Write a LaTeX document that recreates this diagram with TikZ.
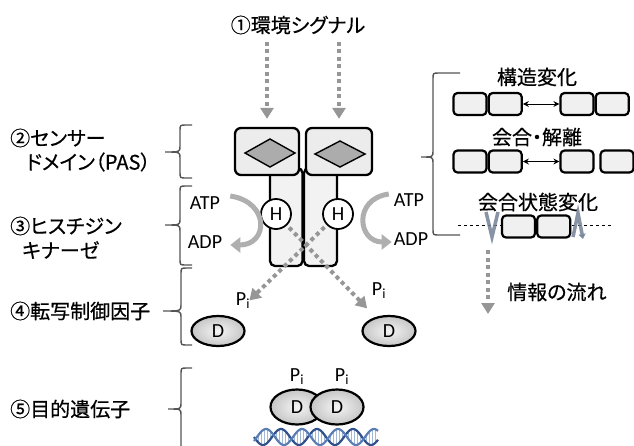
\documentclass[tikz,border=0pt]{standalone}
\usepackage{fontspec}
\setmainfont{Carlito}
\newfontfamily\jp[RawFeature={+palt},FakeBold=0.5]{Noto Sans CJK JP}
\usetikzlibrary{shapes,arrows.meta,positioning,calc}

\definecolor{flowgray}{RGB}{150,150,150}
\definecolor{atpgray}{RGB}{175,175,175}
\definecolor{bracegray}{RGB}{85,85,85}
\definecolor{membgray}{RGB}{115,128,150}
\definecolor{dnablue}{RGB}{50,80,140}
\definecolor{dnablue2}{RGB}{90,125,180}
\definecolor{dnarung}{RGB}{160,185,215}

% curly brace opening to the right: xend, xline, xtip, ytop, ytip, ybot
\newcommand{\sidebrace}[6]{%
  \draw[bracestyle] (#1,#4) -- (#2+6,#4) .. controls (#2,#4) .. (#2,#4+6)
    -- (#2,#5-6) .. controls (#2,#5) .. (#3,#5)
    .. controls (#2,#5) .. (#2,#5+6) -- (#2,#6-6)
    .. controls (#2,#6) .. (#2+6,#6) -- (#1,#6);}

\tikzset{
  jplabel/.style={font=\jp\fontsize{20}{24}\selectfont,inner sep=2pt},
  biolabel/.style={font=\fontsize{20}{24}\selectfont,inner sep=2pt},
  bracestyle/.style={draw=bracegray,line width=1.4pt},
  pasbox/.style={draw=black,line width=2.3pt,rounded corners=6pt,fill=gray!15,
    minimum height=47pt,inner sep=0pt},
  stalkbox/.style={draw=black,line width=2.3pt,rounded corners=5pt,fill=gray!10},
  gem/.style={draw=black,line width=1.4pt,fill=gray!65},
  hcircle/.style={circle,draw=black,line width=1.8pt,fill=white,minimum size=30pt,
    inner sep=0pt,font=\fontsize{20}{22}\selectfont},
  dnode/.style={ellipse,draw=black,line width=2.2pt,inner color=gray!8,outer color=gray!45,
    minimum width=53pt,minimum height=30pt,inner sep=0pt,font=\fontsize{20}{22}\selectfont},
  smallbox/.style={draw=black,line width=2.2pt,rounded corners=4pt,fill=gray!12,
    minimum width=33pt,minimum height=22pt,inner sep=0pt},
  sigflow/.style={draw=flowgray,line width=4pt,dash pattern=on 4pt off 3.5pt,
    -{Triangle[width=13pt,length=11pt]}},
  atpflow/.style={draw=atpgray,line width=5pt,-{Triangle[width=15pt,length=10pt]}},
  membmark/.style={draw=membgray,line width=3.5pt,opacity=.85},
}

\begin{document}
\begin{tikzpicture}[x=1pt,y=-1pt]
\useasboundingbox (0,0) rectangle (634,445);

% left column
\node[jplabel,anchor=west] (lab2a) at (8,138) {②センサー};
\node[jplabel,anchor=west] (lab2b) at (24,162) {ドメイン（PAS）};
\node[jplabel,anchor=west] (lab3a) at (8,226) {③ヒスチジン};
\node[jplabel,anchor=west] (lab3b) at (20,250) {キナーゼ};
\node[jplabel,anchor=west] (lab4) at (8,311) {④転写制御因子};
\node[jplabel,anchor=west] (lab5) at (8,409) {⑤目的遺伝子};

\sidebrace{192}{180}{165}{125}{152}{178}
\sidebrace{192}{180}{165}{186}{225}{265}
\sidebrace{192}{181}{163}{268}{311}{345}
\sidebrace{192}{181}{168}{368}{409}{470}

% signal
\node[jplabel] (signal) at (298,25) {①環境シグナル};

% sensor kinase dimer
\draw[stalkbox] (270,168) rectangle (302.5,266);
\draw[stalkbox] (304,168) rectangle (337,266);
\node[pasbox,minimum width=64pt] (pasL) at (267,151.5) {};
\node[pasbox,minimum width=66pt] (pasR) at (339,151.5) {};
\draw[gem] (245,153) -- (270,139) -- (295,153) -- (270,167) -- cycle;
\draw[gem] (315,154) -- (340,141) -- (365,154) -- (340,167) -- cycle;
\node[hcircle] (hL) at (276,214) {H};
\node[hcircle] (hR) at (338,214) {H};

\draw[sigflow,shorten <=5pt,shorten >=8pt] (signal.south -| pasL.north) -- (pasL.north);
\draw[sigflow,shorten <=5pt,shorten >=8pt] (signal.south -| pasR.north) -- (pasR.north);

% ATP -> ADP
\node[biolabel] (atpL) at (205,203) {ATP};
\node[biolabel] (adpL) at (205,242) {ADP};
\node[biolabel] (atpR) at (409,200) {ATP};
\node[biolabel] (adpR) at (411,239) {ADP};
\draw[atpflow] ($(atpL.east)+(8,-7)$) .. controls +(40,6) and +(38,0) .. ($(adpL.east)+(6,3)$);
\draw[atpflow] ($(atpR.west)+(-3,-6)$) .. controls +(-36,5) and +(-34,0) .. ($(adpR.west)+(0,3)$);

% response regulators
\node[dnode] (dL) at (218,331) {D};
\node[dnode] (dR) at (389,331) {D};
\node[biolabel] (piL) at (243,301) {P\textsubscript{i}};
\node[biolabel] (piR) at (379,291) {P\textsubscript{i}};
\draw[sigflow,shorten <=3pt,shorten >=12pt] (hL) -- (dR);
\draw[sigflow,shorten <=3pt,shorten >=24pt] (hR) -- (dL);

% bound to the target gene
\begin{scope}
\clip (240,418) rectangle (400,445);
\foreach \x in {255,258,...,377}
  \draw[dnarung,line width=1pt] (\x,{437+8*sin((\x-254)*10)}) -- (\x,{437+8*sin((\x-254)*10+150)});
\draw[dnablue,line width=2.2pt] plot[domain=254:378,samples=100] (\x,{437+8*sin((\x-254)*10)});
\draw[dnablue2,line width=2.2pt] plot[domain=254:378,samples=100] (\x,{437+8*sin((\x-254)*10+150)});
\end{scope}
\node[dnode,minimum height=35pt] (dpL) at (297,407) {D};
\node[dnode,minimum height=35pt] (dpR) at (337,407) {D};
\node[biolabel] (pbL) at (297,377) {P\textsubscript{i}};
\node[biolabel] (pbR) at (342,377) {P\textsubscript{i}};
\draw[line width=1pt] ($(pbL.east)+(-3,6)$) -- ($(pbL.east)+(-3,6)$ |- dpL.north);
\draw[line width=1pt] ($(pbR.east)+(-3,6)$) -- ($(pbR.east)+(-3,6)$ |- dpR.north);

% kinds of change in the sensor domain
\sidebrace{460}{433}{421}{73}{157}{235}
\node[jplabel] (chgA) at (537,77) {構造変化};
\node[smallbox] (s1a) at (470,104) {};
\node[smallbox,right=0pt of s1a] (s1b) {};
\node[smallbox] (s1c) at (577,104) {};
\node[smallbox,right=0pt of s1c] (s1d) {};
\draw[{Stealth[length=6pt,width=6pt]}-{Stealth[length=6pt,width=6pt]},line width=1pt] (s1b.east) -- (s1c.west);

\node[jplabel] (chgB) at (537,137) {会合・解離};
\node[smallbox] (s2a) at (470,161.5) {};
\node[smallbox,right=0pt of s2a] (s2b) {};
\node[smallbox] (s2c) at (577,161.5) {};
\node[smallbox] (s2d) at (617,161.5) {};
\draw[{Stealth[length=6pt,width=6pt]}-{Stealth[length=6pt,width=6pt]},line width=1pt] (s2b.east) -- (s2c.west);

\node[jplabel] (chgC) at (538,202) {会合状態変化};
\draw[dashed,line width=0.8pt] (458,225) -- (613,225);
\draw[membmark] (486,212) -- (492,237) -- (498,212);
\draw[membmark,-{Triangle[width=7pt,length=5pt]}] (573,237) -- (578,213) -- (583,239);
\node[smallbox] (s3a) at (518.5,226.5) {};
\node[smallbox,right=0pt of s3a] (s3b) {};

% legend
\coordinate (flowA) at (488,250);
\coordinate (flowB) at (488,314);
\draw[sigflow] (flowA) -- (flowB);
\node[jplabel,anchor=west] (flowtxt) at (505,292) {情報の流れ};

\end{tikzpicture}
\end{document}
